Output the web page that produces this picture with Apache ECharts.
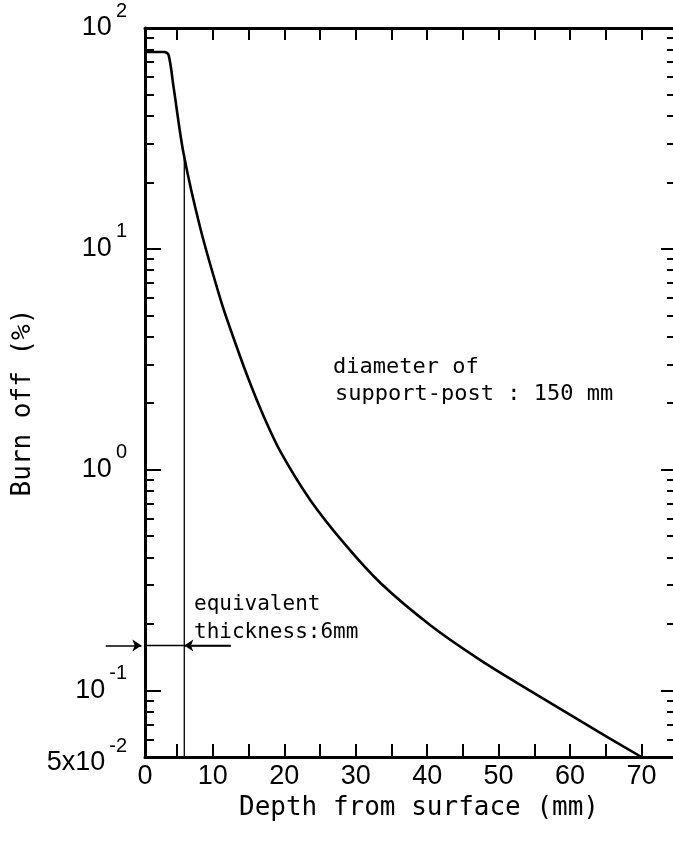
<!DOCTYPE html>
<html>
<head>
<meta charset="utf-8">
<script src="https://cdn.jsdelivr.net/npm/echarts@6/dist/echarts.min.js"></script>
<style>
  html, body { margin: 0; padding: 0; background: #fff; }
  #chart { width: 673px; height: 850px; }
</style>
</head>
<body>
<div id="chart"></div>
<script>
// ---- data ----
const depth   = [0.5, 3.2, 3.8, 4.5, 5.9, 8.3, 11.1, 12.5, 14.8, 17.1, 19.5, 23.7, 28.6, 33.5, 40.5, 47.5, 54.5, 61.5, 70];
const burnOff = [77.9, 77.9, 75.5, 54, 27, 12.2, 5.86, 4.29, 2.67, 1.75, 1.20, 0.724, 0.455, 0.306, 0.197, 0.137, 0.0994, 0.0726, 0.05];

const xTickLabels = [0, 10, 20, 30, 40, 50, 60, 70];
const xTicks = [5, 10, 15, 20, 25, 30, 35, 40, 45, 50, 55, 60, 65, 70];
const yLabelValues = [0.05, 0.1, 1, 10, 100];
const yMajorTicks = [0.1, 1, 10];
const yMinorTicks = [0.06, 0.07, 0.08, 0.09,
                     0.2, 0.3, 0.4, 0.5, 0.6, 0.7, 0.8, 0.9,
                     2, 3, 4, 5, 6, 7, 8, 9,
                     20, 30, 40, 50, 60, 70, 80, 90];

const equivThickness = 6;       // mm, vertical line
const equivLineTop = 26;        // burn off where the vertical line meets the curve
const equivBurn = 0.16;         // level of the dimension arrows
const arrowLeftStart = -5;      // mm
const arrowRightStart = 12.5;   // mm

const xMin = 0.5, xMax = 74.7;
const yMin = 0.05, yMax = 100;

// ---- chart ----
const chart = echarts.init(document.getElementById('chart'));
const BLACK = '#000';
const tickFont = 'Liberation Sans, Arial, sans-serif';
const monoFont = 'DejaVu Sans Mono, monospace';

function yLabel(v) {
  if (v < 0.07) return '{e| }\n{b|5x10}{s|-2}';
  const p = Math.round(Math.log10(v));
  return '{b|10}{s|' + p + '}';
}
const yRich = {
  b: { fontSize: 27, fontFamily: tickFont, color: BLACK },
  s: { fontSize: 20, fontFamily: tickFont, color: BLACK, padding: [0, 0, 34, 4] },
  e: { fontSize: 10, lineHeight: 12 }
};

function baseY(extra) {
  return Object.assign({
    type: 'log', logBase: 10, min: yMin, max: yMax,
    splitLine: { show: false }, minorTick: { show: false }, minorSplitLine: { show: false }
  }, extra);
}
function baseX(extra) {
  return Object.assign({
    type: 'value', min: xMin, max: xMax,
    splitLine: { show: false }, minorTick: { show: false }
  }, extra);
}

const option = {
  backgroundColor: '#fff',
  animation: false,
  grid: { left: 145, right: -2, top: 28, bottom: 93, containLabel: false, outerBoundsMode: 'none' },
  xAxis: [
    baseX({
      position: 'bottom',
      axisLine: { show: true, lineStyle: { color: BLACK, width: 3 } },
      axisTick: { show: true, inside: true, length: 13, customValues: xTicks, lineStyle: { color: BLACK, width: 2 } },
      axisLabel: {
        show: true, margin: 6, fontSize: 27, fontFamily: tickFont, color: BLACK,
        customValues: xTickLabels.map(v => Math.max(v, xMin)),
        formatter: v => String(xTickLabels.reduce((a, b) => Math.abs(b - v) < Math.abs(a - v) ? b : a))
      },
      name: 'Depth from surface (mm)', nameLocation: 'middle', nameGap: 38,
      nameTextStyle: { fontSize: 26, fontFamily: monoFont, color: BLACK, padding: [0, 0, 0, 18] }
    }),
    baseX({
      position: 'top',
      axisLine: { show: true, lineStyle: { color: BLACK, width: 3 } },
      axisTick: { show: true, inside: true, length: 12, customValues: xTicks, lineStyle: { color: BLACK, width: 2 } },
      axisLabel: { show: false }
    })
  ],
  yAxis: [
    baseY({
      position: 'left',
      axisLine: { show: true, lineStyle: { color: BLACK, width: 3 } },
      axisTick: { show: true, inside: true, length: 16, customValues: yMajorTicks, lineStyle: { color: BLACK, width: 2 } },
      axisLabel: { show: true, margin: 18, customValues: yLabelValues, formatter: yLabel, rich: yRich },
      name: 'Burn off (%)', nameLocation: 'middle', nameGap: 104,
      nameTextStyle: { fontSize: 26, fontFamily: monoFont, color: BLACK, padding: [0, 20, 0, 0] }
    }),
    baseY({
      position: 'left',
      axisLine: { show: false },
      axisTick: { show: true, inside: true, length: 9, customValues: yMinorTicks, lineStyle: { color: BLACK, width: 2 } },
      axisLabel: { show: false }
    }),
    baseY({
      position: 'right',
      axisLine: { show: true, lineStyle: { color: BLACK, width: 3 } },
      axisTick: { show: true, inside: true, length: 14, customValues: yMajorTicks, lineStyle: { color: BLACK, width: 2 } },
      axisLabel: { show: false }
    }),
    baseY({
      position: 'right',
      axisLine: { show: false },
      axisTick: { show: true, inside: true, length: 8, customValues: yMinorTicks, lineStyle: { color: BLACK, width: 2 } },
      axisLabel: { show: false }
    })
  ],
  series: [
    {
      type: 'line', name: 'burn off', xAxisIndex: 0, yAxisIndex: 0,
      data: depth.map((d, i) => [d, burnOff[i]]),
      showSymbol: false, symbol: 'none', smooth: 0.3,
      lineStyle: { color: BLACK, width: 2.6 }
    },
    {
      type: 'line', name: 'equivalent thickness', xAxisIndex: 0, yAxisIndex: 0,
      data: [[equivThickness, yMin], [equivThickness, equivLineTop]],
      symbol: 'none', lineStyle: { color: BLACK, width: 1.3 }
    },
    {
      type: 'line', name: 'dimension line', xAxisIndex: 0, yAxisIndex: 0, clip: false,
      data: [[arrowLeftStart, equivBurn], [arrowRightStart, equivBurn]],
      symbol: 'none', lineStyle: { color: BLACK, width: 1.5 }
    },
    {
      type: 'lines', coordinateSystem: 'cartesian2d', xAxisIndex: 0, yAxisIndex: 0, clip: false,
      symbol: ['none', 'arrow'], symbolSize: 9,
      lineStyle: { color: BLACK, width: 1.5, opacity: 1 },
      itemStyle: { color: BLACK },
      data: [
        { coords: [[arrowLeftStart, equivBurn], [0, equivBurn]] },
        { coords: [[arrowRightStart, equivBurn], [equivThickness, equivBurn]] }
      ]
    }
  ],
  graphic: [
    { type: 'text', left: 333, top: 356, style: { text: 'diameter of', font: '22px ' + monoFont, fill: BLACK } },
    { type: 'text', left: 335, top: 383, style: { text: 'support-post : 150 mm', font: '22px ' + monoFont, fill: BLACK } },
    { type: 'text', left: 194, top: 594, style: { text: 'equivalent', font: '21px ' + monoFont, fill: BLACK } },
    { type: 'text', left: 194, top: 622, style: { text: 'thickness:6mm', font: '21px ' + monoFont, fill: BLACK } }
  ]
};
chart.setOption(option);
</script>
</body>
</html>
